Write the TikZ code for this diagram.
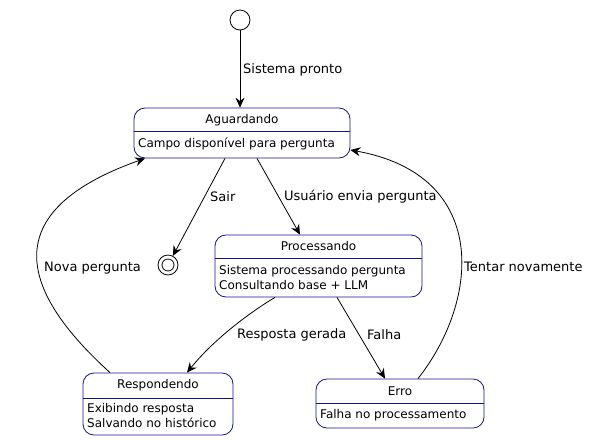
\documentclass[tikz,border=0pt]{standalone}
\usepackage{fontspec}
\setmainfont{DejaVu Sans}
\usetikzlibrary{arrows.meta}
\definecolor{boxblue}{RGB}{20,20,140}

\begin{document}
\begin{tikzpicture}[x=1pt,y=-1pt,
    every node/.style={inner sep=0pt},
    state/.style={draw=boxblue,line width=0.8pt,rounded corners=11pt,fill=white},
    title/.style={font=\fontsize{12}{15}\selectfont},
    body/.style={font=\fontsize{12}{15}\selectfont,align=left,anchor=west},
    lbl/.style={font=\fontsize{13}{16}\selectfont,anchor=west},
    trans/.style={line width=0.8pt,-{Stealth[length=10pt,width=9pt,inset=3.5pt]}}]
    \useasboundingbox (0,0) rectangle (591,440);
    % initial and final
    \node[circle,draw,line width=0.8pt,minimum size=20pt] (init) at (240,20) {};
    \node[circle,draw,line width=0.8pt,minimum size=20pt] (fim) at (168,265) {};
    \draw[line width=0.8pt] (fim.center) circle (6pt);
    % Aguardando
    \node[state,minimum width=216pt,minimum height=50pt] (agu) at (242,133) {};
    \node[title] (aguT) at (242,120) {Aguardando};
    \draw[boxblue,line width=0.8pt] (agu.west |- 0,131) -- (agu.east |- 0,131);
    \node[body] (aguB) at (138,144) {Campo disponível para pergunta};
    % Processando
    \node[state,minimum width=207pt,minimum height=62pt] (proc) at (318.5,266) {};
    \node[title] (procT) at (318.5,246) {Processando};
    \draw[boxblue,line width=0.8pt] (proc.west |- 0,258) -- (proc.east |- 0,258);
    \node[body] (procB) at (219,277.5) {Sistema processando pergunta\\Consultando base + LLM};
    % Respondendo
    \node[state,minimum width=150pt,minimum height=62pt] (resp) at (158,404) {};
    \node[title] (respT) at (158,385) {Respondendo};
    \draw[boxblue,line width=0.8pt] (resp.west |- 0,398) -- (resp.east |- 0,398);
    \node[body] (respB) at (87,415.5) {Exibindo resposta\\Salvando no histórico};
    % Erro
    \node[state,minimum width=168pt,minimum height=49pt] (erro) at (400,403.5) {};
    \node[title] (erroT) at (400,391) {Erro};
    \draw[boxblue,line width=0.8pt] (erro.west |- 0,403) -- (erro.east |- 0,403);
    \node[body] (erroB) at (320,415) {Falha no processamento};
    % transitions
    \draw[trans] (init) -- (init.south |- agu.north);
    \draw[trans] ([xshift=-17pt]agu.south) -- (fim);
    \draw[trans] ([xshift=15pt]agu.south) -- ([xshift=-18.5pt]proc.north);
    \draw[trans] ([xshift=-43.5pt]proc.south) .. controls (252,311) and (215,338) .. ([xshift=29pt]resp.north);
    \draw[trans] ([xshift=18.5pt]proc.south) -- ([xshift=-15pt]erro.north);
    \draw[trans] ([xshift=-48pt]resp.north) .. controls (30,300) and (-15,215) .. ([xshift=-97pt]agu.south);
    \draw[trans] ([xshift=18pt]erro.north) .. controls (480,300) and (490,175) .. ([yshift=-17pt]agu.east);
    % labels
    \node[lbl] (l1) at (243,70) {Sistema pronto};
    \node[lbl] (l2) at (210,197) {Sair};
    \node[lbl] (l3) at (284,197) {Usuário envia pergunta};
    \node[lbl] (l4) at (237,335) {Resposta gerada};
    \node[lbl] (l5) at (367,335) {Falha};
    \node[lbl] (l6) at (44,268) {Nova pergunta};
    \node[lbl] (l7) at (464,267) {Tentar novamente};
\end{tikzpicture}
\end{document}
